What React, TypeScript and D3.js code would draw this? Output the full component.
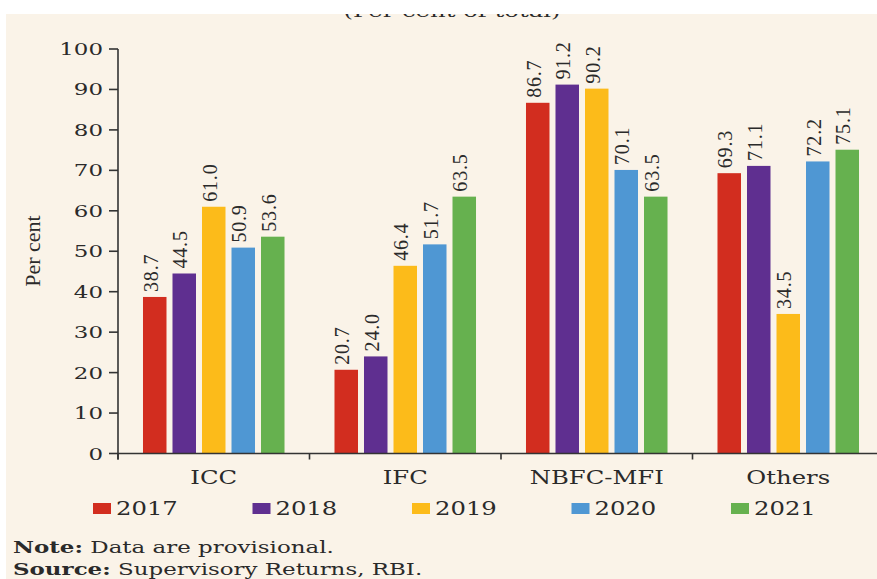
import React from 'react';
import * as d3 from 'd3';

const categories = ['ICC', 'IFC', 'NBFC-MFI', 'Others'];
const years = ['2017', '2018', '2019', '2020', '2021'];
const v2017 = [38.7, 20.7, 86.7, 69.3];
const v2018 = [44.5, 24.0, 91.2, 71.1];
const v2019 = [61.0, 46.4, 90.2, 34.5];
const v2020 = [50.9, 51.7, 70.1, 72.2];
const v2021 = [53.6, 63.5, 63.5, 75.1];
const seriesValues = [v2017, v2018, v2019, v2020, v2021];
const colors = ['#d22d1f', '#5f2f90', '#fcbb1a', '#4f97d3', '#66b14f'];
const yTicks = [0, 10, 20, 30, 40, 50, 60, 70, 80, 90, 100];
const titleText = '(Per cent of total)';
const yTitle = 'Per cent';

const W = 877;
const H = 579;
const FONT = "'DejaVu Serif', serif";
const FONT2 = "'Liberation Serif', 'Times New Roman', serif";
const TXT = '#2a2a2a';
const SX = 1.35;

function SText({ x, y, anchor = 'start', size = 17, weight = 400, children }: any) {
  return (
    <text
      transform={`translate(${x},${y}) scale(${SX},1)`}
      textAnchor={anchor}
      fontFamily={FONT}
      fontSize={size}
      fontWeight={weight}
      fill={TXT}
    >
      {children}
    </text>
  );
}

export default function App() {
  const y = d3.scaleLinear().domain([0, 100]).range([453.5, 49]);
  const x0 = d3.scaleBand<string>().domain(categories).range([118, 884]).padding(0);
  const x1 = d3
    .scaleBand<string>()
    .domain(years)
    .range([0, x0.bandwidth()])
    .paddingInner(0.2034)
    .paddingOuter(0.847);
  const legendX = d3.scaleBand<string>().domain(years).range([93, 93 + 5 * 159.5]);

  const axisColor = '#333';

  return (
    <svg
      width={W}
      height={H}
      style={{ position: 'absolute', left: 0, top: 0 }}
      xmlns="http://www.w3.org/2000/svg"
    >
      <rect x={0} y={0} width={W} height={H} fill="#ffffff" />
      <rect x={6} y={14} width={W - 6} height={H - 14} fill="#faf3e8" />
      {/* cut-off title */}
      <text
        x={452}
        y={17}
        textAnchor="middle"
        fontFamily={FONT}
        fontSize={17}
        fill={TXT}
        textLength={217}
        lengthAdjust="spacingAndGlyphs"
      >
        {titleText}
      </text>
      <rect x={0} y={0} width={W} height={14} fill="#ffffff" />

      {/* bars */}
      {categories.map((c, ci) => (
        <g key={c} transform={`translate(${x0(c)},0)`}>
          {years.map((yr, si) => {
            const v = seriesValues[si][ci];
            const bx = x1(yr)!;
            const bw = x1.bandwidth();
            const top = y(v);
            return (
              <g key={yr}>
                <rect x={bx} y={top} width={bw} height={y(0) - top} fill={colors[si]} />
                <text
                  transform={`translate(${bx + bw / 2 + 3},${top - 5}) rotate(-90)`}
                  textAnchor="start"
                  fontFamily={FONT2}
                  fontSize={20}
                  letterSpacing={0.8}
                  fill={TXT}
                >
                  {v.toFixed(1)}
                </text>
              </g>
            );
          })}
        </g>
      ))}

      {/* y axis */}
      <line x1={118} x2={118} y1={y(100)} y2={y(0) + 6} stroke={axisColor} strokeWidth={1.6} />
      {yTicks.map((t) => (
        <g key={t}>
          <line x1={109} x2={118} y1={y(t)} y2={y(t)} stroke={axisColor} strokeWidth={1.6} />
          <SText x={103} y={y(t) + 6} anchor="end" size={17}>
            {t}
          </SText>
        </g>
      ))}
      <text
        transform={`translate(40,251) rotate(-90)`}
        textAnchor="middle"
        fontFamily={FONT2}
        fontSize={22}
        fill={TXT}
      >
        {yTitle}
      </text>

      {/* x axis */}
      <line x1={118} x2={W} y1={y(0)} y2={y(0)} stroke={axisColor} strokeWidth={1.6} />
      {categories.map((c) => (
        <line
          key={c}
          x1={x0(c)!}
          x2={x0(c)!}
          y1={y(0)}
          y2={y(0) + 6}
          stroke={axisColor}
          strokeWidth={1.6}
        />
      ))}
      {categories.map((c) => (
        <SText key={c} x={x0(c)! + x0.bandwidth() / 2} y={484} anchor="middle" size={18}>
          {c}
        </SText>
      ))}

      {/* legend */}
      {years.map((yr, i) => (
        <g key={yr}>
          <rect x={legendX(yr)!} y={503} width={18} height={11} fill={colors[i]} />
          <SText x={legendX(yr)! + 23} y={515} size={18}>
            {yr}
          </SText>
        </g>
      ))}

      {/* notes */}
      <SText x={13} y={553} size={17}>
        <tspan fontWeight={700}>Note:</tspan> Data are provisional.
      </SText>
      <SText x={13} y={575} size={17}>
        <tspan fontWeight={700}>Source:</tspan> Supervisory Returns, RBI.
      </SText>
    </svg>
  );
}
